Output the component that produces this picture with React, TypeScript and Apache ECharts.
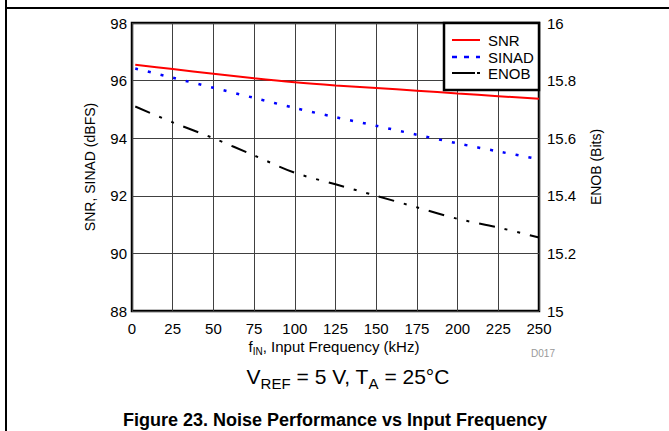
import React, { useEffect, useRef } from 'react';
import * as echarts from 'echarts';

const freqKHz = [2, 25, 50, 75, 100, 125, 150, 175, 200, 225, 250];
const snr = [96.55, 96.4, 96.24, 96.08, 95.94, 95.83, 95.74, 95.65, 95.55, 95.46, 95.37];
const sinad = [96.42, 96.1, 95.75, 95.4, 95.05, 94.73, 94.43, 94.12, 93.82, 93.54, 93.27];
const enob = [15.71, 15.655, 15.6, 15.54, 15.48, 15.44, 15.4, 15.36, 15.32, 15.29, 15.255];

const seriesNames = ['SNR', 'SINAD', 'ENOB'];
const seriesColors = ['#ff0000', '#0000ff', '#000000'];
const leftAxisName = 'SNR, SINAD (dBFS)';
const rightAxisName = 'ENOB (Bits)';
const titleText = 'Figure 23. Noise Performance vs Input Frequency';

const FONT = '"Liberation Sans", Arial, Helvetica, sans-serif';

export default function App() {
  const ref = useRef<HTMLDivElement>(null);
  useEffect(() => {
    document.body.style.margin = '0';
    const chart = echarts.init(ref.current!, null, { renderer: 'svg' });
    const pair = (ys: number[]) => freqKHz.map((x, i) => [x, ys[i]]);
    const chartDash: any[] = [null, [3, 10], [16, 10, 3, 10, 3, 10]];
    const legendDash: any[] = [null, [5, 7], [23, 2, 3, 100]];
    const legendRows = [40, 57, 73];
    const legendGraphics: any[] = [];
    seriesNames.forEach((name, i) => {
      legendGraphics.push({
        type: 'line', z: 9,
        shape: { x1: 452, y1: legendRows[i], x2: 480, y2: legendRows[i] },
        style: { stroke: seriesColors[i], lineWidth: i === 1 ? 2.5 : 2, lineDash: legendDash[i] || undefined },
      });
      legendGraphics.push({
        type: 'text', z: 9, x: 488, y: legendRows[i],
        style: { text: name, fontSize: 15, fontFamily: FONT, fill: '#000', align: 'left', verticalAlign: 'middle' },
      });
    });
    const option: any = {
      animation: false,
      backgroundColor: '#fff',
      textStyle: { fontFamily: FONT, color: '#000' },
      grid: {
        left: 132, top: 23, width: 407, height: 288,
        show: true, borderColor: '#000', borderWidth: 2.5, backgroundColor: 'transparent',
      },
      xAxis: {
        type: 'value', min: 0, max: 250, interval: 25,
        axisLine: { show: false },
        axisTick: { show: false },
        axisLabel: { fontSize: 15, color: '#000', margin: 10, fontFamily: FONT },
        splitLine: { show: true, lineStyle: { color: '#404040', width: 1 } },
      },
      yAxis: [
        {
          type: 'value', min: 88, max: 98, interval: 2,
          name: leftAxisName, nameLocation: 'middle', nameGap: 35,
          nameTextStyle: { fontSize: 14, color: '#000', fontFamily: FONT },
          axisLine: { show: false },
          axisTick: { show: false },
          axisLabel: { fontSize: 15, color: '#000', margin: 5, fontFamily: FONT },
          splitLine: { show: true, lineStyle: { color: '#404040', width: 1 } },
        },
        {
          type: 'value', min: 15, max: 16, interval: 0.2,
          name: rightAxisName, nameLocation: 'middle', nameGap: 50,
          nameTextStyle: { fontSize: 14, color: '#000', fontFamily: FONT },
          axisLine: { show: false },
          axisTick: { show: false },
          axisLabel: { fontSize: 15, color: '#000', margin: 8, fontFamily: FONT },
          splitLine: { show: false },
        },
      ],
      series: [
        {
          name: seriesNames[0], type: 'line', yAxisIndex: 0, data: pair(snr),
          symbol: 'none', smooth: 0.3, z: 3,
          lineStyle: { color: seriesColors[0], width: 2 },
        },
        {
          name: seriesNames[1], type: 'line', yAxisIndex: 0, data: pair(sinad),
          symbol: 'none', smooth: 0.3, z: 3,
          lineStyle: { color: seriesColors[1], width: 2.5, type: chartDash[1] },
        },
        {
          name: seriesNames[2], type: 'line', yAxisIndex: 1, data: pair(enob),
          symbol: 'none', smooth: 0.3, z: 3,
          lineStyle: { color: seriesColors[2], width: 2, type: chartDash[2] },
        },
      ],
      graphic: [
        { type: 'line', z: 1, shape: { x1: 6, y1: 0, x2: 6, y2: 431 }, style: { stroke: '#000', lineWidth: 2 } },
        { type: 'line', z: 1, shape: { x1: 6, y1: 8, x2: 669, y2: 8 }, style: { stroke: '#000', lineWidth: 2 } },
        {
          type: 'rect', z: 8,
          shape: { x: 444, y: 23, width: 95, height: 67 },
          style: { fill: '#fff', stroke: '#000', lineWidth: 2.5 },
        },
        ...legendGraphics,
        {
          type: 'text', z: 5, x: 334, y: 339,
          style: {
            text: '{a|f}{s|IN}{a|, Input Frequency (kHz)}',
            align: 'center', verticalAlign: 'top',
            rich: {
              a: { fontSize: 15, lineHeight: 15, fontFamily: FONT, fill: '#000', verticalAlign: 'top' },
              s: { fontSize: 10, lineHeight: 10, padding: [7, 0, 0, 0], fontFamily: FONT, fill: '#000', verticalAlign: 'top' },
            },
          },
        },
        {
          type: 'text', z: 5, x: 543, y: 353,
          style: { text: 'D017', fontSize: 10, fontFamily: FONT, fill: '#999', align: 'center', verticalAlign: 'middle' },
        },
        {
          type: 'text', z: 5, x: 348, y: 366,
          style: {
            text: '{a|V}{s|REF}{a| = 5 V, T}{s|A}{a| = 25°C}',
            align: 'center', verticalAlign: 'top',
            rich: {
              a: { fontSize: 21, lineHeight: 21, fontFamily: FONT, fill: '#000', verticalAlign: 'top' },
              s: { fontSize: 15, lineHeight: 15, padding: [10, 0, 0, 0], fontFamily: FONT, fill: '#000', verticalAlign: 'top' },
            },
          },
        },
        {
          type: 'text', z: 5, x: 335, y: 420,
          style: {
            text: titleText, fontSize: 18, fontWeight: 'bold', fontFamily: FONT,
            fill: '#000', align: 'center', verticalAlign: 'middle',
          },
        },
      ],
    };
    chart.setOption(option);
    return () => chart.dispose();
  }, []);
  return <div ref={ref} style={{ width: 669, height: 431 }} />;
}
